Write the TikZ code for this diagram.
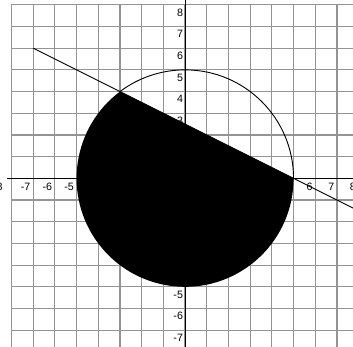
\documentclass[tikz,border=0pt]{standalone}
\usepackage{fontspec}
\setmainfont{Liberation Sans}
\begin{document}
\begin{tikzpicture}[
  gridline/.style={draw=black!42, line width=1.5pt},
  axisline/.style={draw=black, line width=1.3pt},
  curve/.style={draw=black, line width=1.2pt},
  ticklbl/.style={anchor=north east, inner sep=0pt, font=\fontsize{14}{14}\selectfont}
]
\useasboundingbox (-8.53,-7.77) rectangle (7.74,8.22);
\fill[white] (-8.53,-7.77) rectangle (7.74,8.22);
% grid
\foreach \k in {-8,...,8} {
  \draw[gridline] (\k,-8) -- (\k,8);
  \draw[gridline] (-8,\k) -- (8,\k);
}
% labels
\node[ticklbl] (xlm8) at (-8.40,-0.21) {-8};
\foreach \k in {-7,...,-1,1,2,...,8} {
  \node[ticklbl] (xl\k) at (\k-0.12,-0.21) {\k};
}
\foreach \k in {-7,...,-1,1,2,...,8} {
  \node[ticklbl] (yl\k) at (-0.09,\k-0.17) {\k};
}
% axes
\coordinate (xa) at (-8.2,0);
\coordinate (xb) at (9,0);
\coordinate (ya) at (0,-9);
\coordinate (yb) at (0,9);
\draw[axisline] (xa) -- (xb);
\draw[axisline] (ya) -- (yb);
% shaded segment
\coordinate (P) at (-3,4);
\coordinate (Q) at (5,0);
\fill[black] (Q) -- (P) arc[start angle=126.87, end angle=360, radius=5] -- cycle;
% upper arc
\draw[curve] (Q) arc[start angle=0, end angle=126.87, radius=5];
% line
\coordinate (L1) at (-7,6);
\coordinate (L2) at (9,-2);
\draw[axisline] (L1) -- (L2);
\end{tikzpicture}
\end{document}
